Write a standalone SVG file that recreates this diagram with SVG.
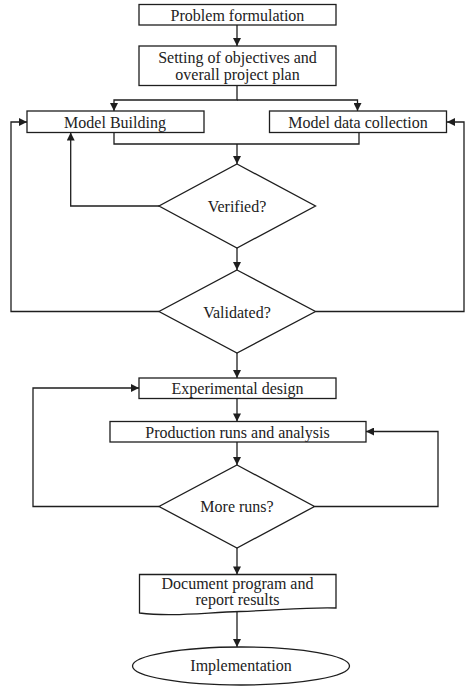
<svg xmlns="http://www.w3.org/2000/svg" width="474" height="690" viewBox="0 0 474 690">
<style>
.n{fill:#fff;stroke:#1e1e1e;stroke-width:1.3}
.c{fill:none;stroke:#1e1e1e;stroke-width:1.3}
.t{font-family:"Liberation Serif","Times New Roman",serif;font-size:16px;fill:#222;text-anchor:middle}
</style>
<defs>
<marker id="ah" viewBox="0 0 10 10" refX="10" refY="5" markerWidth="9" markerHeight="8" markerUnits="userSpaceOnUse" orient="auto">
<path d="M0,0 L10,5 L0,10 Z" fill="#1e1e1e"/>
</marker>
</defs>
<rect width="474" height="690" fill="#fff"/>
<g id="connectors">
<path class="c" d="M237,25 V46" marker-end="url(#ah)"/>
<path class="c" d="M237,85.5 V100 H114 V111" marker-end="url(#ah)"/>
<path class="c" d="M237,100 H357.5 V111" marker-end="url(#ah)"/>
<path class="c" d="M114,132.5 V144 H359 V132.5"/>
<path class="c" d="M237,144 V164" marker-end="url(#ah)"/>
<path class="c" d="M159,206 H70.7 V132.5" marker-end="url(#ah)"/>
<path class="c" d="M237,248 V270" marker-end="url(#ah)"/>
<path class="c" d="M159,311.5 H11 V122 H27" marker-end="url(#ah)"/>
<path class="c" d="M315.5,311.5 H464 V122 H447" marker-end="url(#ah)"/>
<path class="c" d="M237,353 V378" marker-end="url(#ah)"/>
<path class="c" d="M237,399 V421.5" marker-end="url(#ah)"/>
<path class="c" d="M237,442 V465" marker-end="url(#ah)"/>
<path class="c" d="M159,506.5 H33 V388 H139" marker-end="url(#ah)"/>
<path class="c" d="M314.5,506.5 H438 V431.5 H366" marker-end="url(#ah)"/>
<path class="c" d="M237,548 V574.5" marker-end="url(#ah)"/>
<path class="c" d="M237,611.5 V647" marker-end="url(#ah)"/>
</g>
<g id="problem">
<rect class="n" x="139" y="4.5" width="197" height="20.5"/>
<text class="t" x="237.5" y="20.5">Problem formulation</text>
</g>
<g id="objectives">
<rect class="n" x="139" y="46" width="197" height="39.5"/>
<text class="t" x="237.5" y="63">Setting of objectives and</text>
<text class="t" x="237.5" y="80">overall project plan</text>
</g>
<g id="modelbuilding">
<rect class="n" x="27" y="111" width="177" height="21.5"/>
<text class="t" x="115" y="127.5">Model Building</text>
</g>
<g id="datacollection">
<rect class="n" x="269.5" y="111" width="177" height="21.5"/>
<text class="t" x="358" y="127.5">Model data collection</text>
</g>
<g id="verified">
<polygon class="n" points="237,164 315.5,206 237,248 159,206"/>
<text class="t" x="237" y="211.5">Verified?</text>
</g>
<g id="validated">
<polygon class="n" points="237,270 315.5,311.5 237,353 159,311.5"/>
<text class="t" x="237" y="317.5">Validated?</text>
</g>
<g id="experimental">
<rect class="n" x="139" y="378" width="197" height="20.5"/>
<text class="t" x="237.5" y="394">Experimental design</text>
</g>
<g id="production">
<rect class="n" x="110" y="421.5" width="256" height="20.5"/>
<text class="t" x="237.5" y="437.5">Production runs and analysis</text>
</g>
<g id="moreruns">
<polygon class="n" points="237,465 314.5,506.5 237,548 159,506.5"/>
<text class="t" x="237" y="511.5">More runs?</text>
</g>
<g id="document">
<path class="n" d="M139.5,574.5 H336 V608 C310,607 280,610 240,611.5 C200,613 170,617 139.5,613 Z"/>
<text class="t" x="237.5" y="589">Document program and</text>
<text class="t" x="237.5" y="605">report results</text>
</g>
<g id="implementation">
<ellipse class="n" cx="241" cy="666" rx="108.5" ry="19"/>
<text class="t" x="241" y="671">Implementation</text>
</g>
</svg>
